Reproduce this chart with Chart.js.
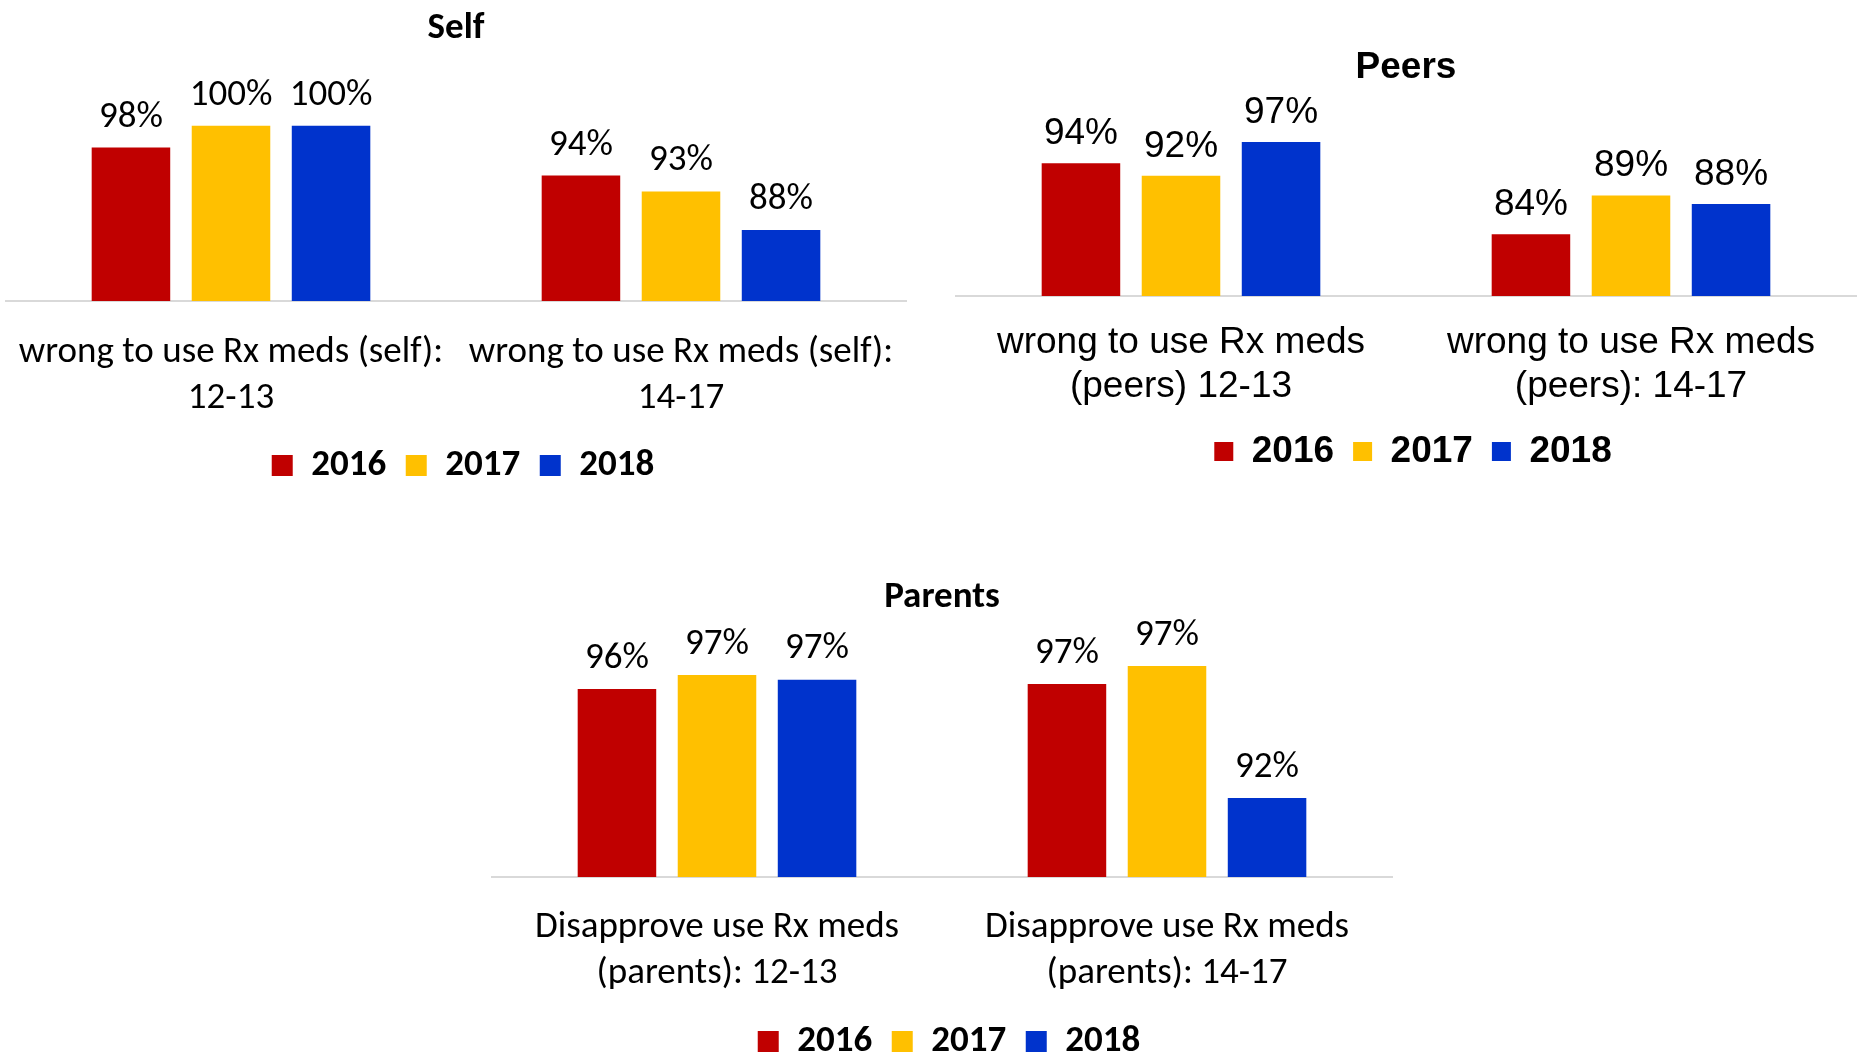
<!DOCTYPE html>
<html><head><meta charset="utf-8">
<script src="https://cdn.jsdelivr.net/npm/chart.js@4.4.1/dist/chart.umd.min.js"></script>
<style>
html,body{margin:0;padding:0;background:#fff;overflow:hidden;}
#page{position:relative;width:1864px;height:1060px;background:#fff;}
canvas{position:absolute;}
</style></head><body>
<div id="page">
<canvas id="cSelf" width="912" height="494" style="left:0px;top:0px"></canvas>
<canvas id="cPeers" width="912" height="480" style="left:950px;top:0px"></canvas>
<canvas id="cParents" width="912" height="500" style="left:486px;top:570px"></canvas>
</div>
<script>
// ---- data ----
const years = ['2016', '2017', '2018'];

const selfCategories = [['wrong to use Rx meds (self):', '12-13'], ['wrong to use Rx meds (self):', '14-17']];
const self2016 = [97.5, 94.3];
const self2017 = [100, 92.5];
const self2018 = [100, 88.1];

const peersCategories = [['wrong to use Rx meds', '(peers) 12-13'], ['wrong to use Rx meds', '(peers): 14-17']];
const peers2016 = [93.9, 83.8];
const peers2017 = [92.1, 89.3];
const peers2018 = [96.9, 88.1];

const parentsCategories = [['Disapprove use Rx meds', '(parents): 12-13'], ['Disapprove use Rx meds', '(parents): 14-17']];
const parents2016 = [96.32, 96.52];
const parents2017 = [96.88, 97.24];
const parents2018 = [96.69, 91.96];

// ---- styles ----
const seriesColors = ['#C00000', '#FFC000', '#0033CC'];
const CAL = 'Carlito, Lato, "Open Sans", sans-serif';
const ARI = '"Liberation Sans", Arial, sans-serif';

const valueLabels = {
  id: 'valueLabels',
  afterDatasetsDraw(chart, args, opts) {
    const ctx = chart.ctx;
    ctx.save();
    ctx.font = opts.font;
    ctx.fillStyle = '#000';
    ctx.textAlign = 'center';
    ctx.textBaseline = 'alphabetic';
    chart.data.datasets.forEach((ds, i) => {
      const meta = chart.getDatasetMeta(i);
      meta.data.forEach((bar, j) => {
        ctx.fillText(Math.round(ds.data[j]) + '%', bar.x, bar.y - opts.offset);
      });
    });
    ctx.restore();
  }
};

// nudges the legend row horizontally after layout
const legendShift = {
  id: 'legendShift',
  afterLayout(chart, args, opts) {
    if (chart.legend && opts.dx) {
      chart.legend.left += opts.dx;
      chart.legend.right += opts.dx;
    }
  }
};

function makeChart(id, cats, series, o) {
  return new Chart(document.getElementById(id), {
    type: 'bar',
    data: {
      labels: cats,
      datasets: series.map((d, i) => ({
        label: years[i],
        data: d,
        backgroundColor: seriesColors[i],
        borderWidth: 0,
        categoryPercentage: 0.667,
        barPercentage: 0.785
      }))
    },
    options: {
      responsive: false,
      animation: false,
      devicePixelRatio: 1,
      layout: { padding: { left: 6, right: 6, top: 0, bottom: 0 } },
      scales: {
        x: {
          grid: { display: false, drawTicks: false },
          border: { display: true, color: '#D9D9D9', width: 2 },
          ticks: {
            color: '#000', font: { family: o.font, size: o.tickSize, lineHeight: o.tickLH },
            padding: o.tickPad, maxRotation: 0, minRotation: 0, autoSkip: false
          },
          afterFit(scale) {
            scale.height = o.axisH;
            scale.paddingLeft = 0;
            scale.paddingRight = 0;
          }
        },
        y: { display: false, min: o.min, max: o.max }
      },
      plugins: {
        title: {
          display: true, text: o.title, color: '#000',
          font: { family: o.font, size: o.titleSize, weight: 'bold', lineHeight: 1.2 },
          padding: { top: o.titleTop, bottom: o.titleBottom }
        },
        legend: {
          display: true, position: 'bottom',
          labels: {
            color: '#000', boxWidth: o.box, boxHeight: o.box, padding: o.legPad,
            font: { family: o.font, size: o.legSize, weight: 'bold' }
          }
        },
        legendShift: { dx: 7 },
        tooltip: { enabled: false },
        valueLabels: { font: o.labelSize + 'px ' + o.font, offset: o.labelOff }
      }
    },
    plugins: [valueLabels, legendShift]
  });
}

makeChart('cSelf', selfCategories, [self2016, self2017, self2018], {
  font: CAL, title: 'Self', titleSize: 37, titleTop: 6.3, titleBottom: 74.9,
  tickSize: 37, tickLH: 45.6 / 37, tickPad: 29, axisH: 126.5,
  min: 80, max: 100, box: 21, legPad: 19.5, legSize: 37, labelSize: 37, labelOff: 21
});

makeChart('cPeers', peersCategories, [peers2016, peers2017, peers2018], {
  font: ARI, title: 'Peers', titleSize: 37, titleTop: 46, titleBottom: 29.85,
  tickSize: 37, tickLH: 43.4 / 37, tickPad: 25.4, axisH: 118,
  min: 75, max: 100, box: 19, legPad: 19, legSize: 37, labelSize: 37, labelOff: 19
});

makeChart('cParents', parentsCategories, [parents2016, parents2017, parents2018], {
  font: CAL, title: 'Parents', titleSize: 37, titleTop: 5.7, titleBottom: 26.9,
  tickSize: 37, tickLH: 46 / 37, tickPad: 28, axisH: 126.5,
  min: 88.8, max: 98, box: 21, legPad: 19.5, legSize: 37, labelSize: 37, labelOff: 21.5
});
</script>
</body></html>
